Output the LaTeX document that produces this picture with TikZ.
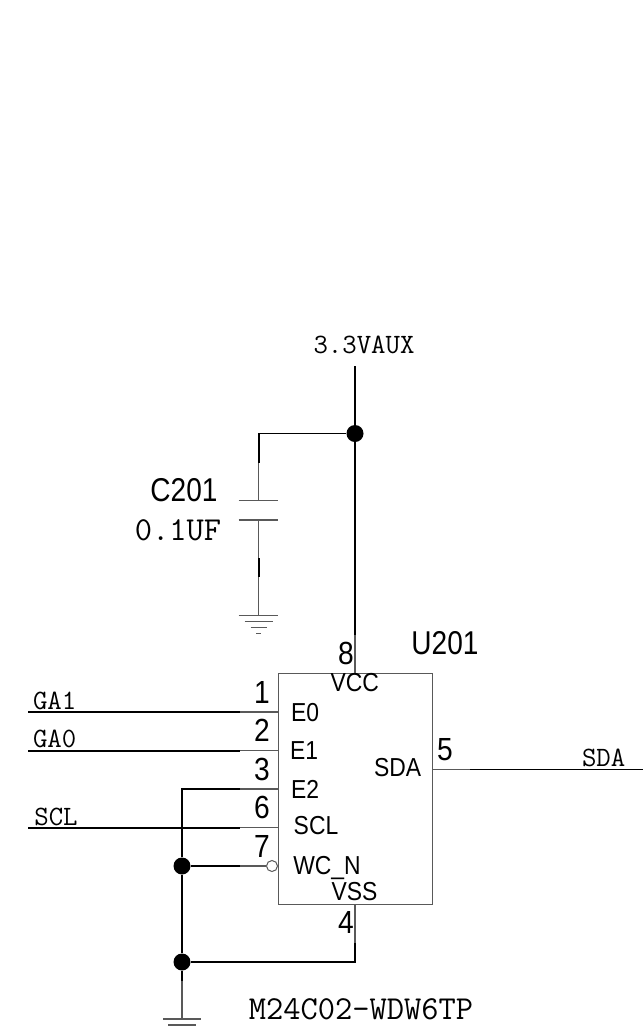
\documentclass[tikz,border=0pt]{standalone}
\usepackage{fontspec}
\setmainfont{Liberation Sans}
\usetikzlibrary{positioning,calc}

\tikzset{
  wire/.style={line width=1.6pt, black},
  stub/.style={line width=1.1pt, black!65},
  dot/.style={circle, fill=black, inner sep=0pt, minimum size=17pt},
  bigtext/.style={inner sep=0pt, xscale=.85, transform shape, font=\fontsize{33}{33}\selectfont},
  pinnum/.style={inner sep=0pt, xscale=.88, transform shape, font=\fontsize{32}{32}\selectfont},
  pinname/.style={inner sep=0pt, xscale=.88, transform shape, font=\fontsize{26}{26}\selectfont},
  netname/.style={inner sep=0pt, font=\fontsize{28}{28}\selectfont\ttfamily},
  partname/.style={inner sep=0pt, font=\fontsize{33.5}{33.5}\selectfont\ttfamily}
}

\begin{document}
\begin{tikzpicture}[x=1pt, y=-1pt]
  \useasboundingbox (0,0) rectangle (643,1026);

  % Nodes
  \node[draw=black!65, line width=1.1pt, anchor=north west, inner sep=0pt, minimum width=153.7pt, minimum height=231pt] (chip) at (278,673) {};
  \node[dot] (railDot) at (355,433.5) {};
  \node[dot] (wcDot) at (182,866) {};
  \node[dot] (gndDot) at (182,962) {};
  \node[circle, draw=black!65, fill=white, line width=1pt, inner sep=0pt, minimum size=11pt] (wcBubble) at (272,866) {};

  \coordinate (railTop) at (355,366);
  \coordinate (railStub) at (355,635);
  \coordinate (vccPin) at (355,673);
  \coordinate (capCorner) at (258.7,433.5);
  \coordinate (capA) at (258.7,463);
  \coordinate (capB) at (258.7,500.7);
  \coordinate (capC) at (258.7,520);
  \coordinate (capD) at (258.7,558);
  \coordinate (capE) at (258.7,577);
  \coordinate (capF) at (258.7,615.7);

  \coordinate (gaOneEnd) at (28,712);
  \coordinate (gaOneStub) at (240,712);
  \coordinate (gaOnePin) at (278,712);
  \coordinate (gaZeroEnd) at (28,750.7);
  \coordinate (gaZeroStub) at (240,750.7);
  \coordinate (gaZeroPin) at (278,750.7);
  \coordinate (eTwoEnd) at (182,789);
  \coordinate (eTwoStub) at (240,789);
  \coordinate (eTwoPin) at (278,789);
  \coordinate (sclEnd) at (28,827.7);
  \coordinate (sclStub) at (240,827.7);
  \coordinate (sclPin) at (278,827.7);
  \coordinate (wcStub) at (240,866);
  \coordinate (sdaPin) at (432,769.5);
  \coordinate (sdaStub) at (470,769.5);
  \coordinate (sdaEnd) at (643,769.5);
  \coordinate (vssPin) at (355,904);
  \coordinate (vssStub) at (355,943);
  \coordinate (vssCorner) at (355,962);
  \coordinate (gndStub) at (182,981);
  \coordinate (gndEnd) at (182,1019);

  % Labels
  \node[netname] (railName) at (364,345) {3.3VAUX};
  \node[bigtext] (capName) at (184,490) {C201};
  \node[partname] (capValue) at (178,530) {0.1UF};
  \node[bigtext] (chipName) at (445,643) {U201};
  \node[partname] (chipPart) at (361,1009.5) {M24C02-WDW6TP};
  \node[netname] (gaOneName) at (54.7,701) {GA1};
  \node[netname] (gaZeroName) at (54.7,739) {GA0};
  \node[netname] (sclName) at (56,816.7) {SCL};
  \node[netname] (sdaName) at (603.7,758) {SDA};

  \node[pinnum] (numOne) at (262,692) {1};
  \node[pinnum] (numTwo) at (262,730) {2};
  \node[pinnum] (numThree) at (262,769) {3};
  \node[pinnum] (numSix) at (262,807) {6};
  \node[pinnum] (numSeven) at (262,846) {7};
  \node[pinnum] (numEight) at (346,653) {8};
  \node[pinnum] (numFive) at (445,750) {5};
  \node[pinnum] (numFour) at (346,922) {4};

  \node[pinname] (nameEZero) at (305,712.7) {E0};
  \node[pinname] (nameEOne) at (304,751) {E1};
  \node[pinname] (nameETwo) at (305,789) {E2};
  \node[pinname] (nameScl) at (316,825.7) {SCL};
  \node[pinname, anchor=base] (nameWc) at (327,874) {WC\_N};
  \node[pinname] (nameVcc) at (354.7,683) {VCC};
  \node[pinname] (nameVss) at (354.5,891.7) {VSS};
  \node[pinname] (nameSda) at (397.7,768) {SDA};

  % Wires
  \draw[wire] (railTop) -- (railDot);
  \draw[wire] (railDot) -- (railStub);
  \draw[stub] (railStub) -- (vccPin);
  \draw[wire] (railDot) -- (capCorner) -- (capA);
  \draw[stub] (capA) -- (capB);
  \draw[stub] (capC) -- (capD);
  \draw[wire] (capD) -- (capE);
  \draw[stub] (capE) -- (capF);

  \draw[wire] (gaOneEnd) -- (gaOneStub);
  \draw[stub] (gaOneStub) -- (gaOnePin);
  \draw[wire] (gaZeroEnd) -- (gaZeroStub);
  \draw[stub] (gaZeroStub) -- (gaZeroPin);
  \draw[wire] (sclEnd) -- (sclStub);
  \draw[stub] (sclStub) -- (sclPin);
  \draw[wire] (wcDot) -- (eTwoEnd) -- (eTwoStub);
  \draw[stub] (eTwoStub) -- (eTwoPin);
  \draw[wire] (wcDot) -- (wcStub);
  \draw[stub] (wcStub) -- (wcBubble);
  \draw[stub] (sdaPin) -- (sdaStub);
  \draw[wire] (sdaStub) -- (sdaEnd);

  \draw[stub] (vssPin) -- (vssStub);
  \draw[wire] (vssStub) -- (vssCorner) -- (gndDot);
  \draw[wire] (wcDot) -- (gndDot);
  \draw[wire] (gndDot) -- (gndStub);
  \draw[stub] (gndStub) -- (gndEnd);

  % Capacitor plates and ground symbols
  \draw[stub] ($(capB)+(-20,0)$) -- ($(capB)+(19,0)$);
  \draw[stub] ($(capC)+(-20,0)$) -- ($(capC)+(19,0)$);
  \draw[stub] ($(capF)+(-20,0)$) -- ($(capF)+(19,0)$);
  \draw[stub] ($(capF)+(-14,6)$) -- ($(capF)+(14,6)$);
  \draw[stub] ($(capF)+(-8,11.5)$) -- ($(capF)+(8,11.5)$);
  \draw[stub] ($(capF)+(-2.5,17.5)$) -- ($(capF)+(2.5,17.5)$);
  \draw[stub] ($(gndEnd)+(-19,0)$) -- ($(gndEnd)+(19,0)$);
  \draw[stub] ($(gndEnd)+(-14,6)$) -- ($(gndEnd)+(14,6)$);
\end{tikzpicture}
\end{document}
